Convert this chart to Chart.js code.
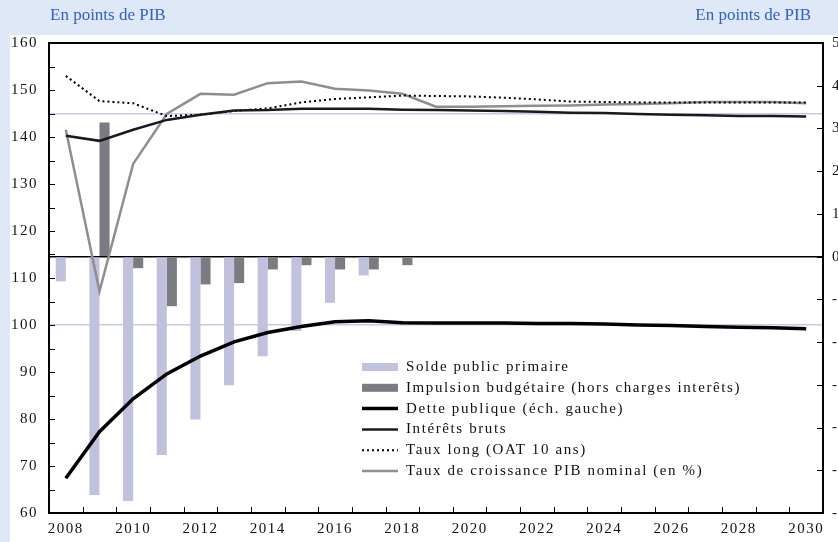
<!DOCTYPE html>
<html>
<head>
<meta charset="utf-8">
<script src="https://cdn.jsdelivr.net/npm/chart.js@4.4.0/dist/chart.umd.min.js"></script>
<style>
  html, body { margin: 0; padding: 0; background: #dfe8f6; }
  #wrap { position: relative; width: 838px; height: 542px; }
</style>
</head>
<body>
<div id="wrap"><canvas id="chart"></canvas></div>
<script>
const years = [2008, 2009, 2010, 2011, 2012, 2013, 2014, 2015, 2016, 2017, 2018, 2019,
  2020, 2021, 2022, 2023, 2024, 2025, 2026, 2027, 2028, 2029, 2030];

// bars, right scale (% of GDP)
const soldePrimaire = [-0.58, -5.58, -5.72, -4.64, -3.81, -3.01, -2.33, -1.74, -1.08, -0.44,
  null, null, null, null, null, null, null, null, null, null, null, null, null];
const impulsion = [null, 3.14, -0.27, -1.16, -0.65, -0.62, -0.30, -0.20, -0.30, -0.30, -0.20,
  null, null, null, null, null, null, null, null, null, null, null, null];

// left scale
const dette = [67.4, 77.3, 84.3, 89.6, 93.4, 96.4, 98.4, 99.7, 100.7, 100.9, 100.5, 100.4,
  100.4, 100.4, 100.3, 100.3, 100.2, 100.0, 99.9, 99.7, 99.5, 99.4, 99.2];

// right scale
const interets = [2.83, 2.71, 2.97, 3.20, 3.32, 3.42, 3.43, 3.46, 3.46, 3.46, 3.44, 3.43,
  3.42, 3.41, 3.39, 3.37, 3.36, 3.34, 3.32, 3.31, 3.29, 3.29, 3.28];
const tauxLong = [4.23, 3.64, 3.59, 3.29, 3.32, 3.41, 3.47, 3.61, 3.69, 3.73, 3.77, 3.76,
  3.75, 3.72, 3.68, 3.63, 3.62, 3.61, 3.61, 3.61, 3.61, 3.61, 3.61];
const croissance = [2.97, -0.81, 2.17, 3.34, 3.81, 3.79, 4.06, 4.10, 3.93, 3.89, 3.81, 3.51,
  3.51, 3.52, 3.53, 3.54, 3.56, 3.57, 3.59, 3.62, 3.62, 3.62, 3.59];

const leftMin = 60, leftMax = 160, leftStep = 5;
const rightMin = -6, rightMax = 5, rightStep = 1;
const refLines = [100, 145];
const titleText = 'En points de PIB';

const serif = '"Liberation Serif", "DejaVu Serif", serif';
const tickFont = { family: serif, size: 15 };

const backdrop = {
  id: 'backdrop',
  beforeDraw(chart) {
    const ctx = chart.ctx;
    ctx.save();
    ctx.fillStyle = '#dfe8f6';
    ctx.fillRect(0, 0, chart.width, chart.height);
    ctx.fillStyle = '#ffffff';
    ctx.fillRect(10, 35, chart.width - 10, chart.height - 35);
    ctx.fillStyle = '#2f5fd0';
    ctx.font = '17px ' + serif;
    ctx.textBaseline = 'middle';
    ctx.textAlign = 'left';
    ctx.fillText(titleText, 50, 16);
    ctx.textAlign = 'right';
    ctx.fillText(titleText, 811, 16);
    ctx.restore();
    ctx.letterSpacing = '1.5px';
  }
};

const frame = {
  id: 'frame',
  afterDatasetsDraw(chart) {
    const { ctx, chartArea: a, scales } = chart;
    ctx.save();
    ctx.letterSpacing = '0px';
    ctx.strokeStyle = '#000';
    ctx.lineWidth = 1;
    ctx.beginPath();
    scales.y.ticks.forEach(t => {
      const y = Math.round(scales.y.getPixelForValue(t.value)) + 0.5;
      ctx.moveTo(a.left, y); ctx.lineTo(a.left + 6, y);
    });
    scales.y1.ticks.forEach(t => {
      const y = Math.round(scales.y1.getPixelForValue(t.value)) + 0.5;
      ctx.moveTo(a.right, y); ctx.lineTo(a.right - 6, y);
    });
    for (let i = 1; i < years.length; i++) {
      const x = Math.round((scales.x.getPixelForValue(i - 1) + scales.x.getPixelForValue(i)) / 2) + 0.5;
      ctx.moveTo(x, a.bottom); ctx.lineTo(x, a.bottom - 6);
    }
    ctx.stroke();
    ctx.lineWidth = 2;
    ctx.strokeRect(a.left, a.top, a.right - a.left, a.bottom - a.top);

    // legend inside the plot
    const x0 = 362, y0 = 367, rowH = 20.8;
    ctx.font = '15px ' + serif;
    ctx.letterSpacing = '1.6px';
    ctx.textBaseline = 'middle';
    ctx.textAlign = 'left';
    chart.data.datasets.forEach((ds, i) => {
      const y = y0 + i * rowH;
      if (ds.type === 'bar') {
        ctx.fillStyle = ds.backgroundColor;
        ctx.fillRect(x0, y - 4, 36, 8);
      } else {
        ctx.strokeStyle = ds.borderColor;
        ctx.lineWidth = ds.borderWidth;
        ctx.setLineDash(ds.borderDash || []);
        ctx.beginPath();
        ctx.moveTo(x0, y); ctx.lineTo(x0 + 36, y);
        ctx.stroke();
        ctx.setLineDash([]);
      }
      ctx.fillStyle = '#111';
      ctx.fillText(ds.label, x0 + 44, y);
    });
    ctx.restore();
  }
};

new Chart(document.getElementById('chart'), {
  data: {
    labels: years,
    datasets: [
      { type: 'bar', label: 'Solde public primaire', data: soldePrimaire, yAxisID: 'y1',
        backgroundColor: '#c0c0df', barPercentage: 1, categoryPercentage: 0.6, order: 5 },
      { type: 'bar', label: 'Impulsion budgétaire (hors charges interêts)', data: impulsion, yAxisID: 'y1',
        backgroundColor: '#7b7b82', barPercentage: 1, categoryPercentage: 0.6, order: 5 },
      { type: 'line', label: 'Dette publique (éch. gauche)', data: dette, yAxisID: 'y',
        borderColor: '#000', borderWidth: 3.5, pointRadius: 0, tension: 0, order: 1 },
      { type: 'line', label: 'Intérêts bruts', data: interets, yAxisID: 'y1',
        borderColor: '#1a1a1a', borderWidth: 2.5, pointRadius: 0, tension: 0, order: 2 },
      { type: 'line', label: 'Taux long (OAT 10 ans)', data: tauxLong, yAxisID: 'y1',
        borderColor: '#000', borderWidth: 2, borderDash: [2, 3], pointRadius: 0, tension: 0, order: 3 },
      { type: 'line', label: 'Taux de croissance PIB nominal (en %)', data: croissance, yAxisID: 'y1',
        borderColor: '#8e8e8e', borderWidth: 2.5, pointRadius: 0, tension: 0, order: 4 }
    ]
  },
  options: {
    responsive: true,
    maintainAspectRatio: false,
    animation: false,
    layout: { padding: { top: 43, left: 0, right: 0, bottom: 0 } },
    plugins: {
      legend: { display: false },
      tooltip: { enabled: false }
    },
    scales: {
      x: {
        type: 'category',
        offset: true,
        grid: { display: false, drawTicks: false },
        border: { display: false },
        ticks: {
          autoSkip: false, maxRotation: 0, padding: 7, color: '#111', font: tickFont,
          callback: (v, i) => (years[i] % 2 === 0 ? String(years[i]) : '')
        },
        afterFit: s => { s.height = 29; }
      },
      y: {
        position: 'left',
        min: leftMin, max: leftMax,
        grid: {
          drawTicks: false,
          color: c => (refLines.includes(c.tick.value) ? '#c8c8e8' : 'transparent'),
          lineWidth: 1.5
        },
        border: { display: false },
        ticks: {
          stepSize: leftStep, autoSkip: false, padding: 11, color: '#111', font: tickFont,
          callback: v => (v % 10 === 0 ? v : '')
        },
        afterFit: s => { s.width = 49; }
      },
      y1: {
        position: 'right',
        min: rightMin, max: rightMax,
        grid: {
          drawTicks: false,
          color: c => (c.tick.value === 0 ? '#000' : 'transparent'),
          lineWidth: 1.5
        },
        border: { display: false },
        ticks: { stepSize: rightStep, autoSkip: false, padding: 9, color: '#111', font: tickFont },
        afterFit: s => { s.width = 15; }
      }
    }
  },
  plugins: [backdrop, frame]
});
</script>
</body>
</html>
